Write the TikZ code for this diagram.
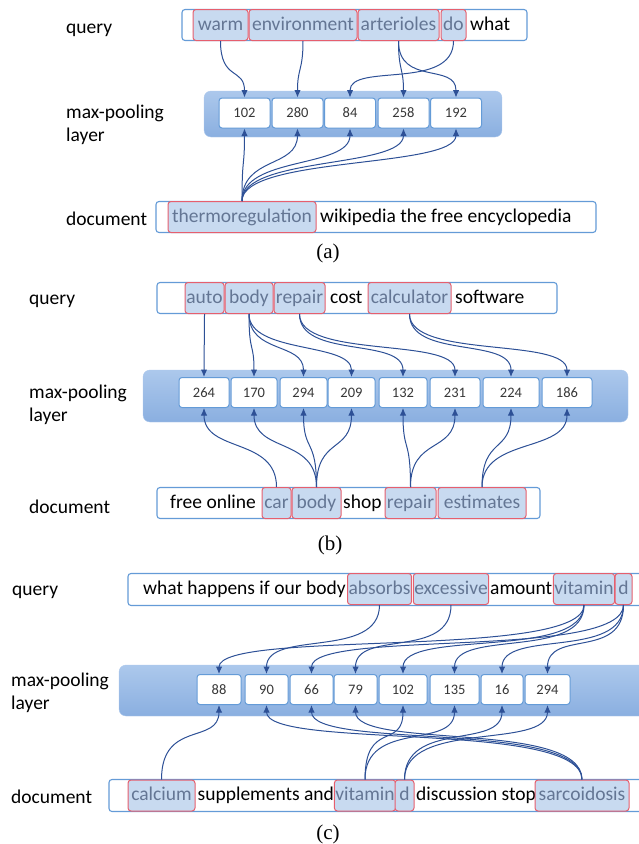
\documentclass[tikz,border=0pt]{standalone}
\usepackage{fontspec}
\setmainfont{Carlito}
\newfontfamily\capfont{Liberation Serif}
\usetikzlibrary{arrows.meta}

\definecolor{frameblue}{RGB}{100,155,215}
\definecolor{hlfill}{RGB}{200,218,240}
\definecolor{hlred}{RGB}{230,95,110}
\definecolor{hlgray}{RGB}{100,118,148}
\definecolor{bandtop}{RGB}{172,200,236}
\definecolor{bandbot}{RGB}{138,175,224}
\definecolor{linkblue}{RGB}{45,80,150}
\definecolor{numgray}{RGB}{55,55,55}

\newcommand\wordfont{\fontsize{19.5}{23}\selectfont}
\newcommand\numfont{\fontsize{14.5}{16}\selectfont}

\tikzset{
  frame/.style={draw=frameblue, line width=1.1pt, rounded corners=3pt, fill=white},
  band/.style={top color=bandtop, bottom color=bandbot, draw=bandtop, rounded corners=7pt},
  hl/.style={draw=hlred, fill=hlfill, line width=1pt, rounded corners=3pt, text=hlgray,
    minimum height=31pt, inner xsep=1pt, text height=14pt, text depth=4pt, font=\wordfont},
  plain/.style={anchor=west, inner sep=0pt, text height=14pt, text depth=4pt, font=\wordfont},
  lbl/.style={anchor=west, inner sep=0pt, font=\wordfont, align=left},
  cell/.style={draw=frameblue, fill=white, line width=1pt, rounded corners=3pt,
    minimum height=30pt, inner sep=0pt, text=numgray, font=\numfont},
  link/.style={draw=linkblue, line width=1pt, -{Latex[length=7.5pt,width=6.5pt]}},
  captext/.style={font=\capfont\fontsize{21}{24}\selectfont}
}

\begin{document}
\begin{tikzpicture}[x=1pt,y=-1pt]
  \useasboundingbox (0,0) rectangle (639,844);
  \clip (0,0) rectangle (639,844);

  % (a)
  \node[lbl] (aq) at (66,30) {query};
  \node[lbl] (am) at (66,125) {max-pooling\\layer};
  \node[lbl] (ad) at (66,219) {document};

  \draw[frame] (182,9.5) rectangle (527,40.5);
  \node[hl, minimum width=55pt] (awarm) at (220.5,25) {warm};
  \node[hl, minimum width=108pt] (aenv) at (303,25) {environment};
  \node[hl, minimum width=81pt] (aart) at (398.5,25) {arterioles};
  \node[hl, minimum width=25pt] (ado) at (453.5,25) {do};
  \node[plain] (awhat) at (470,25) {what};

  \draw[band] (204,91) rectangle (502,137);
  \foreach \n/\x/\v in {1/244.5/102, 2/297.5/280, 3/350/84, 4/403.5/258, 5/456/192}
    \node[cell, minimum width=51pt] (a\n) at (\x,113) {\v};

  \draw[frame] (156,201.5) rectangle (596,232.5);
  \node[hl, minimum width=148pt] (atherm) at (242,217) {thermoregulation};
  \node[plain] (awiki) at (320,217) {wikipedia the free encyclopedia};

  \draw[link] (awarm.south) .. controls +(0,40) and +(0,-30) .. (a1.north);
  \draw[link] (aenv.south) .. controls +(0,30) and +(0,-30) .. (a2.north);
  \draw[link] (aart.south) .. controls +(0,30) and +(0,-30) .. (a4.north);
  \draw[link] (aart.south) .. controls +(0,45) and +(0,-35) .. (a5.north);
  \draw[link] (ado.south) .. controls +(0,50) and +(0,-35) .. (a3.north);
  \foreach \n in {1,...,5}
    \draw[link] (atherm.north) .. controls +(0,-45) and +(0,40) .. (a\n.south);

  \node[captext] (acap) at (328,253) {(a)};

  % (b)
  \node[lbl] (bq) at (29,301) {query};
  \node[lbl] (bm) at (29,405) {max-pooling\\layer};
  \node[lbl] (bd) at (29,507) {document};

  \draw[frame] (157,282.5) rectangle (557,313.5);
  \node[hl, minimum width=39pt] (bauto) at (204.5,298) {auto};
  \node[hl, minimum width=48pt] (bbody) at (249,298) {body};
  \node[hl, minimum width=51pt] (brep) at (299.5,298) {repair};
  \node[plain] (bcost) at (330,298) {cost};
  \node[hl, minimum width=83pt] (bcalc) at (409.5,298) {calculator};
  \node[plain] (bsoft) at (455,298) {software};

  \draw[band] (143,370) rectangle (628,422);
  \foreach \n/\x/\w/\v in {1/204/50/264, 2/254/46/170, 3/303.5/47/294, 4/351.5/47/209,
      5/403/48/132, 6/455/50/231, 7/511/56/224, 8/567/50/186}
    \node[cell, minimum width=\w pt] (b\n) at (\x,392.5) {\v};

  \draw[frame] (157,487.5) rectangle (540,518.5);
  \node[plain] (bfree) at (170,503) {free online};
  \node[hl, minimum width=29pt] (bcar) at (276.5,503) {car};
  \node[hl, minimum width=49pt] (bdbody) at (316.5,503) {body};
  \node[plain] (bshop) at (343,503) {shop};
  \node[hl, minimum width=51pt] (bdrep) at (410.5,503) {repair};
  \node[hl, minimum width=88pt] (best) at (482,503) {estimates};

  \draw[link] (bauto.south) .. controls +(0,25) and +(0,-25) .. (b1.north);
  \foreach \n in {2,3,4}
    \draw[link] (bbody.south) .. controls +(0,40) and +(0,-35) .. (b\n.north);
  \foreach \n in {5,6}
    \draw[link] (brep.south) .. controls +(0,45) and +(0,-40) .. (b\n.north);
  \foreach \n in {7,8}
    \draw[link] (bcalc.south) .. controls +(0,45) and +(0,-40) .. (b\n.north);
  \draw[link] (bcar.north) .. controls +(0,-50) and +(0,45) .. (b1.south);
  \foreach \n in {2,3,4}
    \draw[link] (bdbody.north) .. controls +(0,-50) and +(0,45) .. (b\n.south);
  \foreach \n in {5,6}
    \draw[link] (bdrep.north) .. controls +(0,-50) and +(0,45) .. (b\n.south);
  \foreach \n in {7,8}
    \draw[link] (best.north) .. controls +(0,-50) and +(0,45) .. (b\n.south);

  \node[captext] (bcap) at (330,545) {(b)};

  % (c)
  \node[lbl] (cq) at (12,592) {query};
  \node[lbl] (cm) at (11,693) {max-pooling\\layer};
  \node[lbl] (cd) at (11,797) {document};

  \draw[frame] (128,573.5) rectangle (660,605.5);
  \node[plain] (cwhat) at (143,589) {what happens if our body};
  \node[hl, minimum width=59pt] (cabs) at (379.5,589) {absorbs};
  \node[hl, minimum width=74pt] (cexc) at (451,589) {excessive};
  \node[plain] (camt) at (490,589) {amount};
  \node[hl, minimum width=58pt] (cvit) at (584,589) {vitamin};
  \node[hl, minimum width=17pt] (cqd) at (623.5,589) {d};

  \draw[band] (119,665) rectangle (660,716);
  \foreach \n/\x/\w/\v in {1/219/44/88, 2/266.5/43/90, 3/311.5/43/66, 4/355.5/43/79,
      5/403/48/102, 6/454.5/49/135, 7/502/42/16, 8/547.5/45/294}
    \node[cell, minimum width=\w pt] (c\n) at (\x,689.5) {\v};

  \draw[frame] (109,779.5) rectangle (660,811.5);
  \node[hl, minimum width=67pt] (ccal) at (161.5,795.5) {calcium};
  \node[plain] (csupp) at (197.5,795.5) {supplements and};
  \node[hl, minimum width=60pt] (cdvit) at (365,795.5) {vitamin};
  \node[hl, minimum width=19pt] (cdd) at (404.5,795.5) {d};
  \node[plain] (cdisc) at (416,795.5) {discussion stop};
  \node[hl, minimum width=94pt] (csar) at (582,795.5) {sarcoidosis};

  \draw[link] (cabs.south) .. controls +(0,55) and +(0,-45) .. (c2.north);
  \draw[link] (cexc.south) .. controls +(0,55) and +(0,-45) .. (c4.north);
  \foreach \n in {1,5,6}
    \draw[link] (cvit.south) .. controls +(0,55) and +(0,-45) .. (c\n.north);
  \foreach \n in {3,7,8}
    \draw[link] (cqd.south) .. controls +(0,55) and +(0,-45) .. (c\n.north);
  \draw[link] (ccal.north) .. controls +(0,-60) and +(0,40) .. (c1.south);
  \foreach \n in {5,6}
    \draw[link] (cdvit.north) .. controls +(0,-60) and +(0,45) .. (c\n.south);
  \foreach \n in {7,8}
    \draw[link] (cdd.north) .. controls +(0,-60) and +(0,45) .. (c\n.south);
  \foreach \n in {2,3,4}
    \draw[link] (csar.north) .. controls +(0,-60) and +(0,45) .. (c\n.south);

  \node[captext] (ccap) at (328,834) {(c)};
\end{tikzpicture}
\end{document}
